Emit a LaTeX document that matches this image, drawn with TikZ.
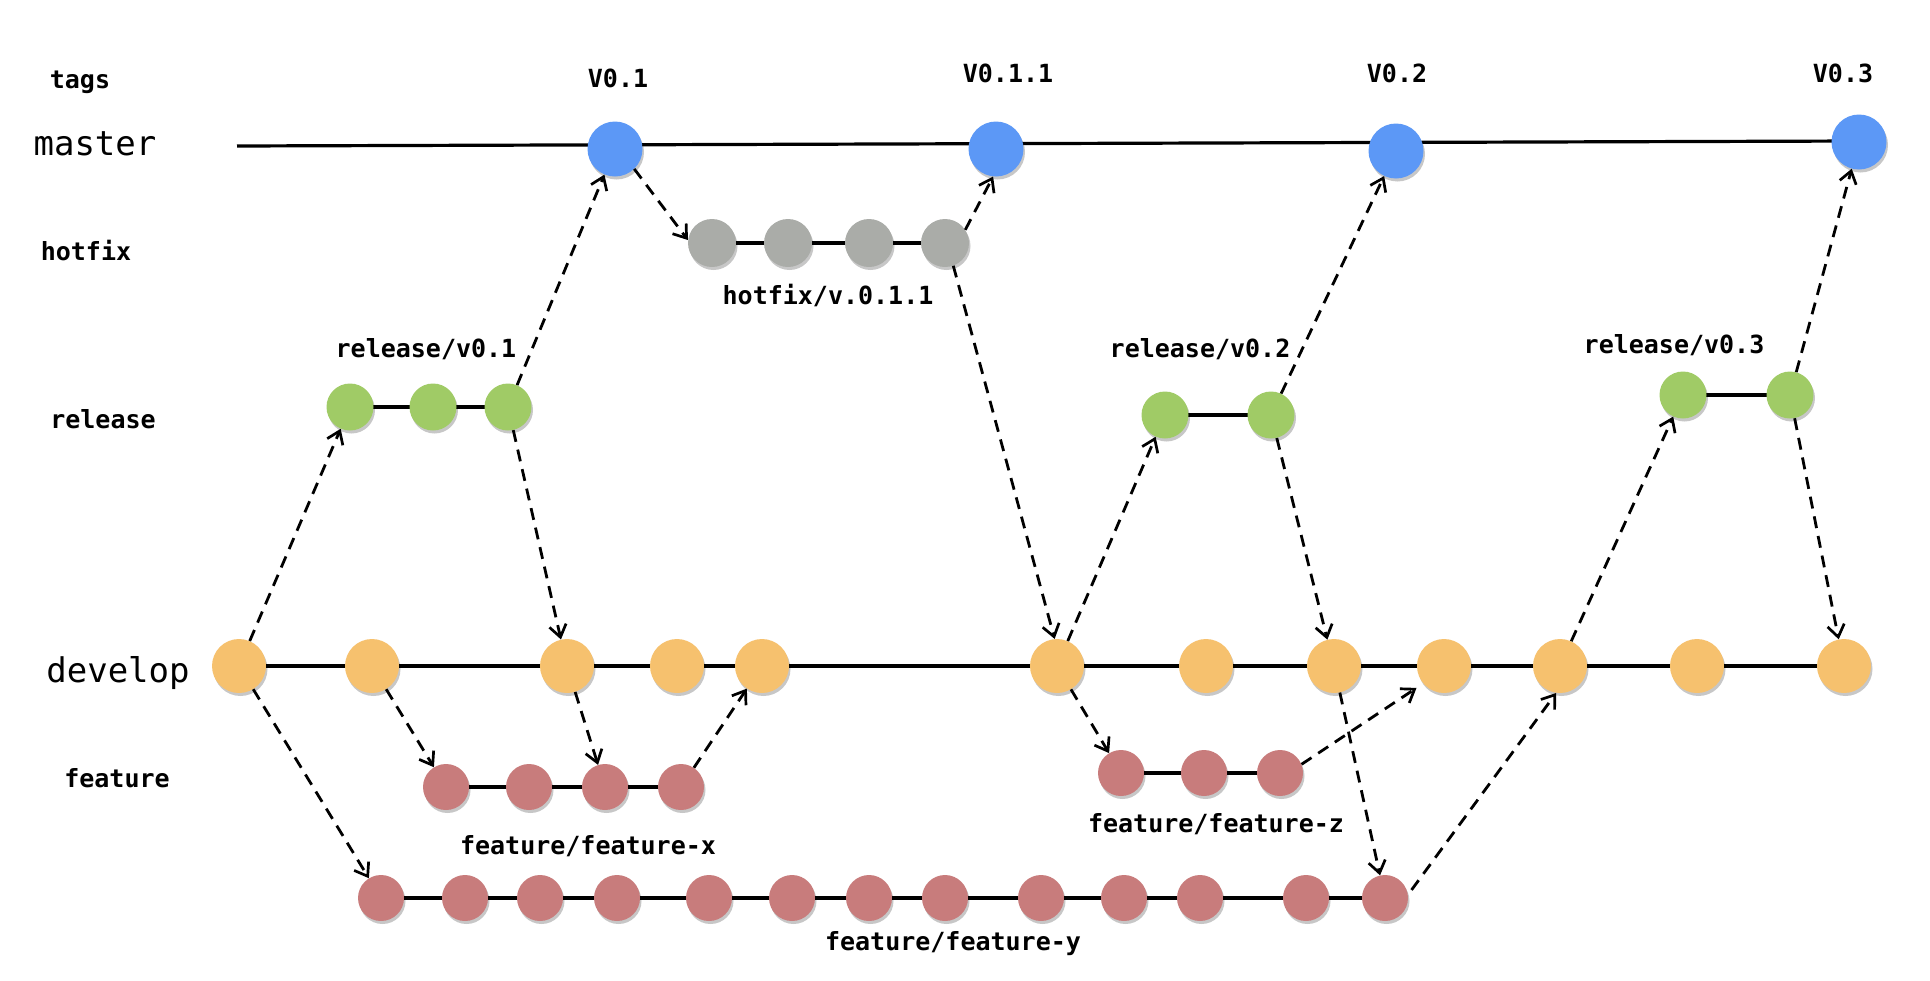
\documentclass[tikz,border=0pt]{standalone}
\usepackage{fontspec}
\setmonofont{DejaVu Sans Mono}
\usetikzlibrary{arrows.meta,shadows,backgrounds}
\definecolor{cblue}{RGB}{92,152,246}
\definecolor{cgrey}{RGB}{170,172,168}
\definecolor{cgreen}{RGB}{160,203,102}
\definecolor{corange}{RGB}{246,193,110}
\definecolor{cred}{RGB}{200,124,124}
\begin{document}
\begin{tikzpicture}[x=1pt,y=-1pt,
  commit/.style={circle,inner sep=0pt,minimum size=47pt,
    drop shadow={shadow xshift=1.5pt,shadow yshift=-3pt,fill=black,opacity=0.22}},
  mcommit/.style={commit,fill=cblue,minimum size=55pt},
  hcommit/.style={commit,fill=cgrey,minimum size=48pt},
  rcommit/.style={commit,fill=cgreen},
  dcommit/.style={commit,fill=corange,minimum size=54pt},
  fcommit/.style={commit,fill=cred,minimum size=46pt},
  branch/.style={line width=3.2pt},
  merge/.style={line width=2.8pt,dash pattern=on 12pt off 8pt,
    -{Straight Barb[length=12pt,width=17pt,line width=2.7pt]}},
  lbl/.style={font=\ttfamily\bfseries\fontsize{25}{25}\selectfont,inner sep=0pt,anchor=base},
  biglbl/.style={font=\ttfamily\fontsize{34}{34}\selectfont,inner sep=0pt,anchor=base},
]
\useasboundingbox (0,0) rectangle (1930,980);

% row labels
\node[lbl] (ltags) at (80,88) {tags};
\node[biglbl] (lmaster) at (95,155) {master};
\node[lbl] (lhotfix) at (86,260) {hotfix};
\node[lbl] (lrelease) at (103,428) {release};
\node[biglbl] (ldevelop) at (118,682) {develop};
\node[lbl] (lfeature) at (117,787) {feature};

% tags
\node[lbl] (t1) at (618,87) {V0.1};
\node[lbl] (t2) at (1008,82) {V0.1.1};
\node[lbl] (t3) at (1397,82) {V0.2};
\node[lbl] (t4) at (1843,82) {V0.3};

% branch labels
\node[lbl] (lh) at (828,304) {hotfix/v.0.1.1};
\node[lbl] (lr1) at (426,357) {release/v0.1};
\node[lbl] (lr2) at (1200,357) {release/v0.2};
\node[lbl] (lr3) at (1674,353) {release/v0.3};
\node[lbl] (lfx) at (588,854) {feature/feature-x};
\node[lbl] (lfz) at (1216,832) {feature/feature-z};
\node[lbl] (lfy) at (953,950) {feature/feature-y};

% master
\coordinate (ms) at (237,146);
\coordinate (me) at (1859,141);
\node[mcommit] (m1) at (615,149) {};
\node[mcommit] (m2) at (996,149) {};
\node[mcommit] (m3) at (1396,151) {};
\node[mcommit] (m4) at (1859,142) {};

% hotfix
\node[hcommit] (h1) at (712,243) {};
\node[hcommit] (h2) at (788,243) {};
\node[hcommit] (h3) at (869,243) {};
\node[hcommit] (h4) at (945,243) {};

% release
\node[rcommit] (ra1) at (350,407) {};
\node[rcommit] (ra2) at (433,407) {};
\node[rcommit] (ra3) at (508,407) {};
\node[rcommit] (rb1) at (1165,415) {};
\node[rcommit] (rb2) at (1271,415) {};
\node[rcommit] (rc1) at (1683,395) {};
\node[rcommit] (rc2) at (1790,395) {};

% develop
\foreach \i/\x in {1/239,2/372,3/567,4/677,5/762,6/1057,7/1206,8/1334,9/1444,10/1560,11/1697,12/1844}
  \node[dcommit] (d\i) at (\x,666) {};

% features
\foreach \i/\x in {1/446,2/529,3/605,4/681}
  \node[fcommit] (fx\i) at (\x,787) {};
\foreach \i/\x in {1/1121,2/1204,3/1280}
  \node[fcommit] (fz\i) at (\x,773) {};
\foreach \i/\x in {1/381,2/465,3/540,4/617,5/709,6/792,7/869,8/945,9/1041,10/1124,11/1200,12/1306,13/1385}
  \node[fcommit] (fy\i) at (\x,898) {};

% branch lines
\begin{pgfonlayer}{background}
\draw[branch] (ms) -- (me);
\draw[branch] (h1.center) -- (h4.center);
\draw[branch] (ra1.center) -- (ra3.center);
\draw[branch] (rb1.center) -- (rb2.center);
\draw[branch] (rc1.center) -- (rc2.center);
\draw[branch] (d1.center) -- (d12.center);
\draw[branch] (fx1.center) -- (fx4.center);
\draw[branch] (fz1.center) -- (fz2.center) -- (fz3.center);
\draw[branch] (fy1.center) -- (fy13.center);
\end{pgfonlayer}

% merges
\draw[merge] (d1) -- (ra1);
\draw[merge] (ra3) -- (m1);
\draw[merge] (ra3) -- (d3);
\draw[merge] (m1.-46) -- (h1.173);
\draw[merge] (h4.33) -- (m2.-96);
\draw[merge] (h4.-70) -- (d6.95);
\draw[merge] (d1) -- (fy1);
\draw[merge] (d2) -- (fx1);
\draw[merge] (d3) -- (fx3);
\draw[merge] (fx4) -- (d5);
\draw[merge] (d6) -- (rb1);
\draw[merge] (rb2) -- (m3);
\draw[merge] (rb2) -- (d8);
\draw[merge] (d6) -- (fz1);
\draw[merge,shorten >=8pt] (fz3.22) -- (d9.-140);
\draw[merge] (d8) -- (fy13);
\draw[merge,shorten <=6pt] (fy13.8) -- (d10.-98);
\draw[merge] (d10) -- (rc1);
\draw[merge] (rc2) -- (m4);
\draw[merge] (rc2) -- (d12);
\end{tikzpicture}
\end{document}
